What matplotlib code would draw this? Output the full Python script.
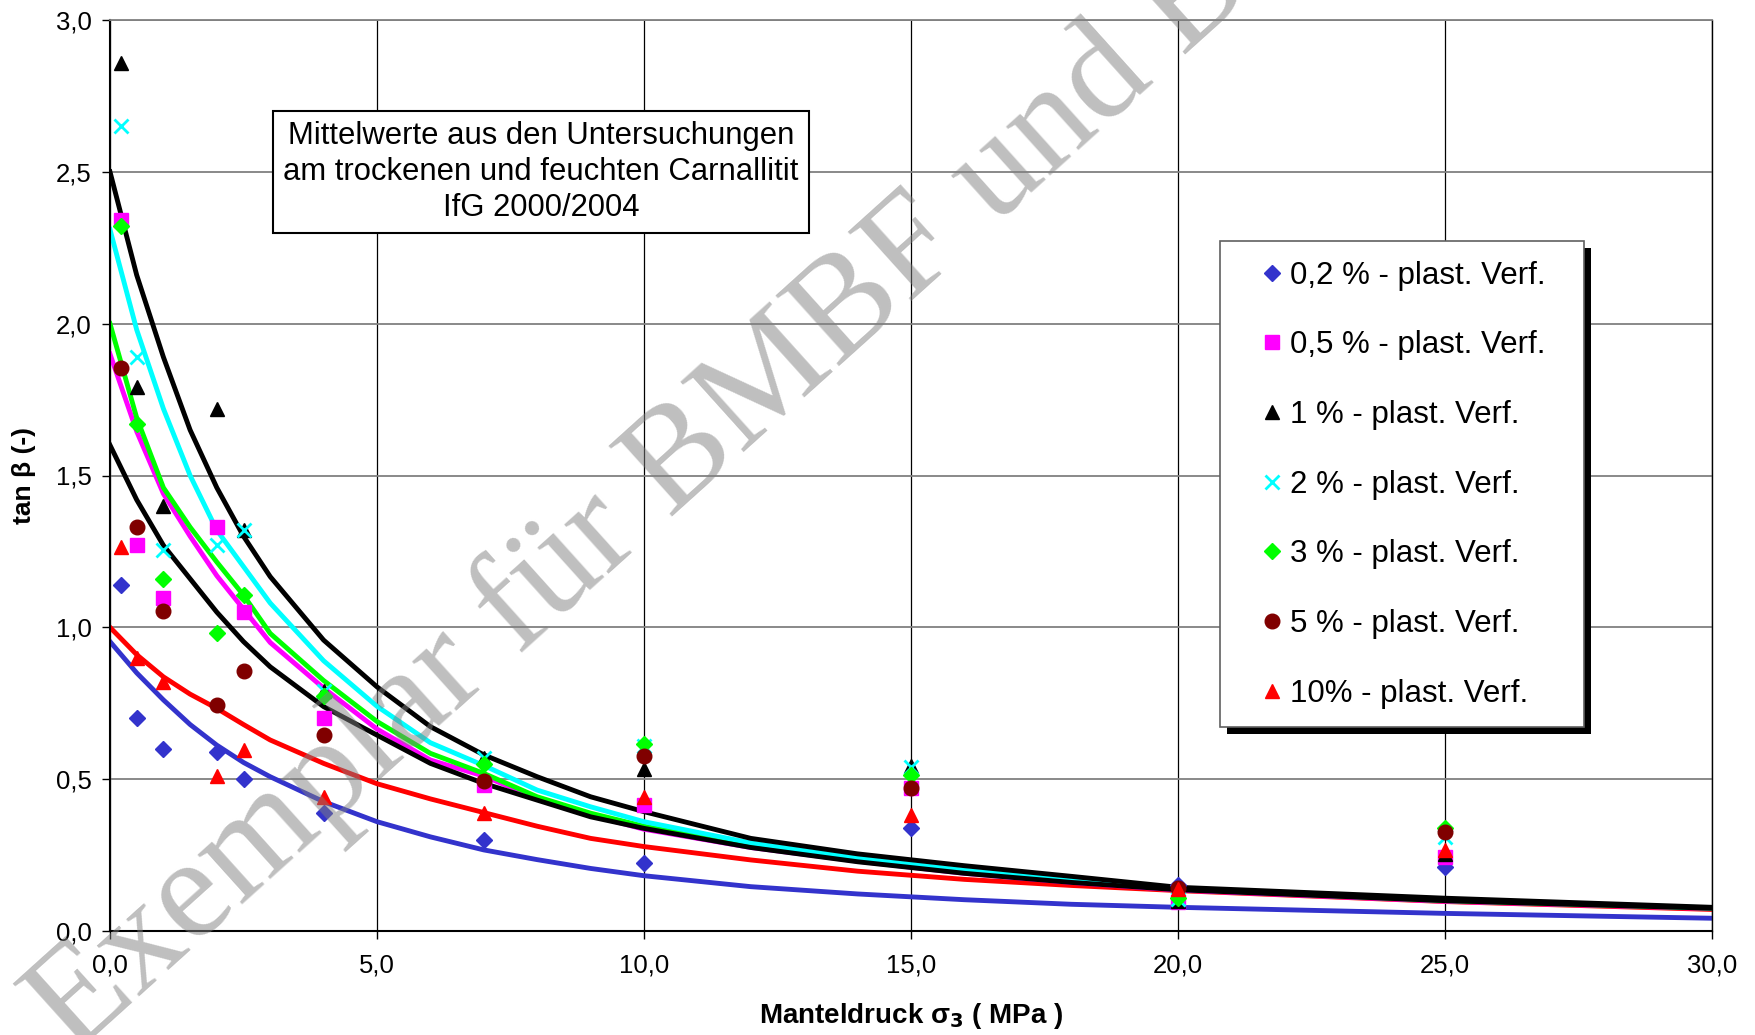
import matplotlib
matplotlib.use("Agg")
import matplotlib.pyplot as plt
from matplotlib.ticker import MultipleLocator, FuncFormatter
from matplotlib.patches import Rectangle

plt.rcParams['font.family'] = ['Liberation Sans', 'DejaVu Sans']

# Messpunkte: Manteldruck sigma3 (MPa)
sig3 = [0.2, 0.5, 1.0, 2.0, 2.5, 4.0, 7.0, 10.0, 15.0, 20.0, 25.0]

tan_02 = [1.14, 0.70, 0.60, 0.59, 0.50, 0.39, 0.30, 0.225, 0.34, 0.15, 0.21]
tan_05 = [2.34, 1.27, 1.095, 1.33, 1.05, 0.70, 0.48, 0.415, 0.47, 0.095, 0.245]
tan_1 = [2.86, 1.79, 1.40, 1.72, 1.32, 0.79, 0.57, 0.535, 0.545, 0.10, 0.255]
tan_2 = [2.65, 1.89, 1.255, 1.27, 1.32, 0.79, 0.57, 0.61, 0.54, 0.105, 0.31]
tan_3 = [2.32, 1.67, 1.16, 0.98, 1.105, 0.775, 0.55, 0.615, 0.515, 0.11, 0.34]
tan_5 = [1.855, 1.33, 1.055, 0.745, 0.855, 0.645, 0.495, 0.575, 0.47, 0.14, 0.327]
tan_10 = [1.265, 0.90, 0.82, 0.51, 0.595, 0.44, 0.387, 0.44, 0.382, 0.137, 0.267]

# Ausgleichskurven
fit_x = [0, 0.5, 1, 1.5, 2, 2.5, 3, 4, 5, 6, 7, 8, 9, 10, 12, 14, 16, 18, 20, 25, 30]
fit_blue = [0.953, 0.85, 0.761, 0.68, 0.612, 0.555, 0.508, 0.426, 0.36, 0.31, 0.267,
            0.235, 0.206, 0.182, 0.146, 0.122, 0.103, 0.088, 0.078, 0.058, 0.042]
fit_red = [1.0, 0.91, 0.837, 0.78, 0.733, 0.68, 0.629, 0.552, 0.485, 0.435, 0.39,
           0.345, 0.305, 0.278, 0.234, 0.197, 0.17, 0.15, 0.133, 0.097, 0.071]
fit_magenta = [1.90, 1.645, 1.44, 1.30, 1.17, 1.06, 0.95, 0.80, 0.665, 0.563, 0.51,
               0.437, 0.382, 0.335, 0.275, 0.23, 0.19, 0.16, 0.135, 0.098, 0.074]
fit_green = [2.0, 1.69, 1.46, 1.33, 1.215, 1.106, 0.98, 0.825, 0.69, 0.585, 0.519,
             0.442, 0.388, 0.345, 0.28, 0.235, 0.195, 0.165, 0.138, 0.10, 0.075]
fit_cyan = [2.31, 1.98, 1.72, 1.50, 1.32, 1.20, 1.08, 0.89, 0.74, 0.62, 0.545,
            0.464, 0.409, 0.36, 0.29, 0.24, 0.20, 0.168, 0.14, 0.104, 0.076]
fit_black_lo = [1.60, 1.42, 1.27, 1.16, 1.05, 0.953, 0.87, 0.739, 0.645, 0.552, 0.486,
                0.431, 0.376, 0.338, 0.275, 0.228, 0.19, 0.16, 0.136, 0.10, 0.075]
fit_black_hi = [2.50, 2.16, 1.89, 1.65, 1.46, 1.30, 1.167, 0.958, 0.804, 0.673, 0.58,
                0.508, 0.442, 0.393, 0.305, 0.254, 0.215, 0.18, 0.144, 0.108, 0.078]

labels = ['0,2 % - plast. Verf.', '0,5 % - plast. Verf.', '1 % - plast. Verf.',
          '2 % - plast. Verf.', '3 % - plast. Verf.', '5 % - plast. Verf.',
          '10% - plast. Verf.']

W, H = 1755, 1035
fig = plt.figure(figsize=(W / 100, H / 100), dpi=100)
ax = fig.add_axes([110 / W, 1 - 931 / H, (1712 - 110) / W, (931 - 20) / H])

# curves
lw = 3.5
ax.plot(fit_x, fit_blue, color='#3333CC', lw=lw, zorder=2)
ax.plot(fit_x, fit_red, color='#FF0000', lw=lw, zorder=2)
ax.plot(fit_x, fit_magenta, color='#FF00FF', lw=lw, zorder=2)
ax.plot(fit_x, fit_green, color='#00FF00', lw=lw, zorder=2)
ax.plot(fit_x, fit_cyan, color='#00FFFF', lw=lw, zorder=2)
ax.plot(fit_x, fit_black_lo, color='black', lw=lw, zorder=2)
ax.plot(fit_x, fit_black_hi, color='black', lw=lw, zorder=2)

# points
h = []
h += ax.plot(sig3, tan_02, 'D', color='#3333CC', ms=7.8, ls='none', zorder=3)
h += ax.plot(sig3, tan_05, 's', color='#FF00FF', ms=10.5, ls='none', zorder=3)
h += ax.plot(sig3, tan_1, '^', color='black', ms=10.5, ls='none', zorder=3)
h += ax.plot(sig3, tan_2, 'x', color='#00FFFF', ms=9.5, mew=2, ls='none', zorder=3)
h += ax.plot(sig3, tan_3, 'D', color='#00FF00', ms=7.8, ls='none', zorder=3)
h += ax.plot(sig3, tan_5, 'o', color='#800000', ms=10.5, ls='none', zorder=3)
h += ax.plot(sig3, tan_10, '^', color='#FF0000', ms=10.5, ls='none', zorder=3)

ax.set_xlim(0, 30)
ax.set_ylim(0, 3)
ax.xaxis.set_major_locator(MultipleLocator(5))
ax.yaxis.set_major_locator(MultipleLocator(0.5))
fmt = FuncFormatter(lambda v, p: f"{v:.1f}".replace('.', ','))
ax.xaxis.set_major_formatter(fmt)
ax.yaxis.set_major_formatter(fmt)
ax.tick_params(axis='both', direction='out', length=6, width=1, labelsize=18.5)
ax.tick_params(axis='x', pad=10)
ax.tick_params(axis='y', pad=7)

ax.grid(axis='x', color='black', lw=0.9, zorder=1)
ax.grid(axis='y', color='#808080', lw=1.3, zorder=1)
ax.set_axisbelow(True)
ax.spines['left'].set_linewidth(1.5)
ax.spines['bottom'].set_linewidth(1.5)
ax.spines['top'].set_color('#808080')
ax.spines['top'].set_linewidth(1.3)
ax.spines['right'].set_linewidth(1.0)

fig.text(911 / W, 1 - 1016 / H, 'Manteldruck σ$_\\mathbf{3}$ ( MPa )', ha='center', va='center',
         fontsize=20, fontweight='bold')
fig.text(24 / W, 1 - 476 / H, 'tan β (-)', ha='center', va='center', rotation=90,
         fontsize=19, fontweight='bold')

# Textkasten
fig.text(541 / W, 1 - 172 / H,
         'Mittelwerte aus den Untersuchungen\nam trockenen und feuchten Carnallitit\nIfG 2000/2004',
         ha='center', va='center', fontsize=22.3, linespacing=1.25, zorder=5,
         bbox=dict(boxstyle='square,pad=0.33', fc='white', ec='black', lw=1.5))

# Legende mit Schatten
lx0, ly0, lx1, ly1 = 1220, 241, 1584, 727
fig.patches.append(Rectangle(((lx0 + 7) / W, 1 - (ly1 + 7) / H), (lx1 - lx0) / W, (ly1 - ly0) / H,
                             transform=fig.transFigure, fc='black', ec='none', zorder=4))
fig.patches.append(Rectangle((lx0 / W, 1 - ly1 / H), (lx1 - lx0) / W, (ly1 - ly0) / H,
                             transform=fig.transFigure, fc='white', ec='#606060', lw=1.2, zorder=4.5))
leg = fig.legend(h, labels, loc='center left', bbox_to_anchor=(1259 / W, 1 - 484.6 / H),
                 frameon=False, fontsize=22.5, handlelength=0.8, handletextpad=0.2,
                 borderpad=0, borderaxespad=0, labelspacing=1.27, numpoints=1)
leg.set_zorder(6)

# Wasserzeichen
fig.text(688 / W, 1 - 455 / H, 'Exemplar für BMBF und BM', ha='center', va='center',
         rotation=42, rotation_mode='anchor', fontsize=104, family='Liberation Serif',
         color='#808080', alpha=0.5, zorder=10)

fig.savefig('out.png', dpi=100)
